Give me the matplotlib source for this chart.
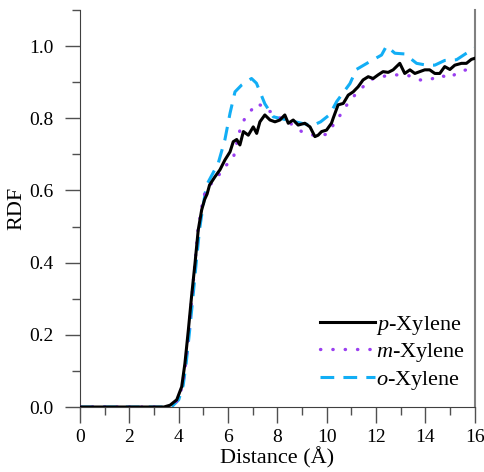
import matplotlib
matplotlib.use('Agg')
import matplotlib.pyplot as plt
from matplotlib.ticker import MultipleLocator

plt.rcParams['font.family'] = ['Liberation Serif', 'DejaVu Serif']
plt.rcParams['mathtext.fontset'] = 'custom'
plt.rcParams['mathtext.rm'] = 'Liberation Serif'
plt.rcParams['mathtext.it'] = 'Liberation Serif:italic'

# p-Xylene
p_x = [0, 3.4, 3.65, 3.92, 4.12, 4.25, 4.39, 4.52, 4.66, 4.79, 4.93, 5.05, 5.15, 5.25,
       5.47, 5.67, 5.87, 6.08, 6.21, 6.35, 6.48, 6.62, 6.82, 7.02, 7.16, 7.29, 7.49,
       7.70, 7.9, 8.1, 8.3, 8.44, 8.64, 8.84, 9.11, 9.32, 9.52, 9.65, 9.79, 9.99,
       10.19, 10.26, 10.46, 10.67, 10.87, 11.07, 11.27, 11.47, 11.68, 11.88, 12.08,
       12.28, 12.49, 12.69, 12.96, 13.16, 13.37, 13.57, 13.77, 13.97, 14.17, 14.38,
       14.58, 14.78, 14.99, 15.19, 15.46, 15.66, 15.86, 16.0]
p_y = [0, 0, 0.005, 0.02, 0.056, 0.12, 0.213, 0.306, 0.398, 0.49, 0.546, 0.575, 0.59, 0.615,
       0.638, 0.657, 0.684, 0.707, 0.735, 0.741, 0.726, 0.763, 0.753, 0.776, 0.758, 0.79, 0.809,
       0.795, 0.79, 0.795, 0.809, 0.786, 0.795, 0.781, 0.786, 0.776, 0.749, 0.753, 0.763, 0.767,
       0.786, 0.80, 0.837, 0.841, 0.864, 0.873, 0.887, 0.906, 0.915, 0.91, 0.92,
       0.929, 0.927, 0.934, 0.952, 0.924, 0.934, 0.924, 0.929, 0.934, 0.934, 0.924,
       0.924, 0.943, 0.935, 0.947, 0.952, 0.952, 0.963, 0.966]

# m-Xylene
m_x = [0, 3.55, 3.8, 4.0, 4.15, 4.28, 4.4, 4.53, 4.66, 4.78, 4.92, 5.05, 5.33, 5.6, 5.87,
       6.21, 6.35, 6.48, 6.68, 6.95, 7.15, 7.35, 7.55, 7.76, 8.03, 8.64, 8.98, 9.45, 9.99,
       10.46, 10.94, 11.27, 11.54, 11.88, 12.22, 12.62, 13.16, 13.5, 13.77, 14.18, 14.58,
       14.99, 15.32, 15.73, 16.0]
m_y = [0, 0, 0.005, 0.025, 0.06, 0.12, 0.21, 0.30, 0.40, 0.49, 0.55, 0.59, 0.62, 0.64, 0.666,
       0.689, 0.73, 0.767, 0.80, 0.823, 0.841, 0.835, 0.82, 0.818, 0.804, 0.781, 0.763, 0.753, 0.755,
       0.80, 0.85, 0.873, 0.892, 0.91, 0.915, 0.92, 0.92, 0.915, 0.906, 0.906, 0.92,
       0.91, 0.929, 0.935, 0.94]

# o-Xylene
o_x = [0, 3.55, 3.75, 4.0, 4.18, 4.3, 4.44, 4.57, 4.71, 4.84, 4.97, 5.13, 5.6, 5.87, 6.08,
       6.28, 6.55, 6.95, 7.15, 7.49, 7.83, 8.4, 8.98, 9.44, 9.75, 10.12, 10.4, 10.94, 11.2,
       11.75, 12.22, 12.42, 12.76, 13.16, 13.64, 14.04, 14.38, 14.78, 15.26, 15.66, 16.0]
o_y = [0, 0, 0.003, 0.02, 0.06, 0.12, 0.21, 0.30, 0.40, 0.49, 0.55, 0.615, 0.675, 0.74, 0.814,
       0.873, 0.892, 0.91, 0.897, 0.84, 0.804, 0.795, 0.786, 0.78, 0.79, 0.81, 0.846, 0.896, 0.935,
       0.957, 0.975, 1.0, 0.98, 0.978, 0.952, 0.947, 0.947, 0.96, 0.962, 0.98, 0.994]

fig = plt.figure(figsize=(4.85, 4.72), dpi=100)
ax = fig.add_axes([0.165, 0.1377, 0.814, 0.8413])

ax.plot(o_x, o_y, color='#12aef5', linewidth=2.2, dashes=(4.5, 3), label=r'$\mathit{o}$-Xylene', zorder=2)
ax.plot(m_x, m_y, color='#9a3ff0', linewidth=2.4, linestyle=(0, (0.1, 3.6)),
        dash_capstyle='round', label=r'$\mathit{m}$-Xylene', zorder=3)
ax.plot(p_x, p_y, color='black', linewidth=2.2, label=r'$\mathit{p}$-Xylene', zorder=4)

ax.set_xlim(0, 16)
ax.set_ylim(0, 1.1)
ax.xaxis.set_major_locator(MultipleLocator(2))
ax.xaxis.set_minor_locator(MultipleLocator(1))
ax.yaxis.set_minor_locator(MultipleLocator(0.1))
ax.set_yticks([0, 0.2, 0.4, 0.6, 0.8, 1.0])
ax.set_yticklabels(['0.0', '0.2', '0.4', '0.6', '0.8', '1.0'])

ax.tick_params(which='major', direction='out', length=11, width=1, color='#505050',
               labelsize=14)
ax.tick_params(which='minor', direction='out', length=6, width=1, color='#505050')
ax.tick_params(axis='y', which='major', pad=8)
ax.tick_params(axis='x', which='major', length=11.5, pad=4)

ax.spines['top'].set_visible(False)
for s in ['left', 'bottom']:
    ax.spines[s].set_color('#404040')
ax.spines['right'].set_color('#808080')
ax.spines['right'].set_linewidth(1.5)

ax.set_xlabel('Distance (Å)', fontsize=16, labelpad=1)
ax.set_ylabel('RDF', fontsize=16, labelpad=2)

h, l = ax.get_legend_handles_labels()
ax.legend(h[::-1], l[::-1], loc='lower right', frameon=False, fontsize=16,
          handlelength=2.5, handletextpad=0.05, labelspacing=0.2,
          bbox_to_anchor=(1.01, 0.005), borderaxespad=0.2)

fig.savefig('out.png', dpi=100)
